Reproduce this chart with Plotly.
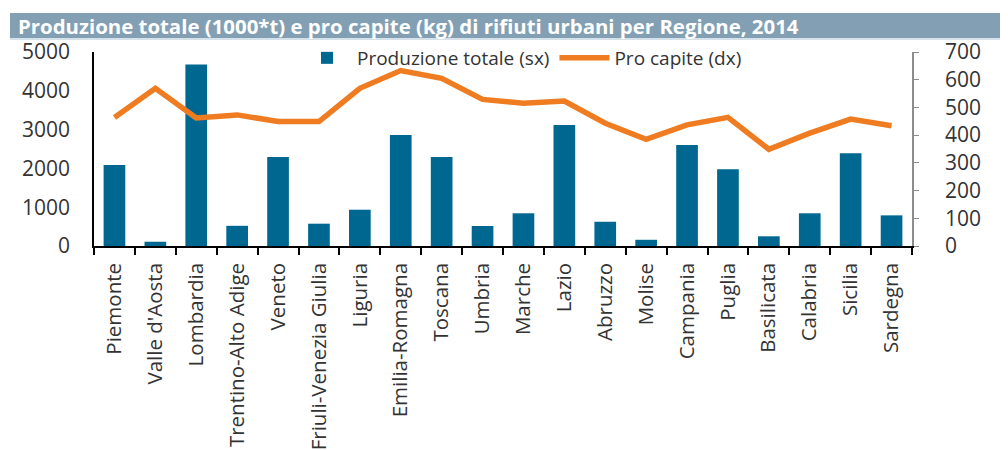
import plotly.graph_objects as go

regioni = ["Piemonte", "Valle d'Aosta", "Lombardia", "Trentino-Alto Adige", "Veneto",
           "Friuli-Venezia Giulia", "Liguria", "Emilia-Romagna", "Toscana", "Umbria",
           "Marche", "Lazio", "Abruzzo", "Molise", "Campania", "Puglia", "Basilicata",
           "Calabria", "Sicilia", "Sardegna"]
produzione_totale = [2090, 110, 4680, 520, 2295, 575, 935, 2860, 2295, 515,
                     843, 3120, 625, 160, 2600, 1980, 250, 843, 2390, 790]
pro_capite = [464, 569, 462, 473, 449, 449, 569, 633, 605, 529,
              515, 523, 443, 385, 437, 464, 349, 407, 458, 434]
left_ticks = [0, 1000, 2000, 3000, 4000, 5000]
right_ticks = [0, 100, 200, 300, 400, 500, 600, 700]
titolo = "Produzione totale (1000*t) e pro capite (kg) di rifiuti urbani per Regione, 2014"

# page body has an 8px margin: figure placed at (8, 8) in the 1008x450 window
OFF = 8
W, H = 1008 - OFF, 450 - OFF
# plot area in screen pixels
SL, SR, ST, SB = 94, 912, 52, 246
L, R, T, B = SL - OFF, W - (SR - OFF), ST - OFF, H - (SB - OFF)
pw, ph = SR - SL, SB - ST

def px_x(x):  # screen x -> paper
    return (x - SL) / pw

def px_y(y):  # screen y -> paper
    return (SB - y) / ph

FONT = "Open Sans"
TXT = "#333333"

fig = go.Figure()
fig.add_trace(go.Bar(x=regioni, y=produzione_totale, name="Produzione totale (sx)",
                     marker=dict(color="#006890", line=dict(width=0)), width=0.53))
fig.add_trace(go.Scatter(x=regioni, y=pro_capite, name="Pro capite (dx)", yaxis="y2",
                         mode="lines", line=dict(color="#F07C22", width=5.5)))

fig.update_layout(
    width=W, height=H,
    margin=dict(l=L, r=R, t=T, b=B, autoexpand=False),
    paper_bgcolor="white", plot_bgcolor="white",
    font=dict(family=FONT, color=TXT),
    showlegend=True,
    legend=dict(orientation="h", x=px_x(297), y=px_y(39), xanchor="left", yanchor="top",
                font=dict(family=FONT, size=19, color=TXT),
                bgcolor="rgba(0,0,0,0)", itemwidth=50, traceorder="normal"),
    xaxis=dict(type="category", showline=True, linecolor="black", linewidth=1.5,
               ticks="outside", tickson="boundaries", ticklen=7, tickcolor="black",
               tickwidth=1.5, tickangle=-90, tickfont=dict(family=FONT, size=20.5, color=TXT),
               ticklabelstandoff=7, showgrid=False, zeroline=False),
    yaxis=dict(range=[0, 5000], tickvals=left_ticks, showgrid=False, zeroline=False,
               showline=True, linecolor="black", linewidth=1.5, ticks="",
               tickfont=dict(family=FONT, size=21, color=TXT), ticklabelstandoff=18),
    yaxis2=dict(range=[0, 700], tickvals=right_ticks, overlaying="y", side="right",
                showgrid=False, zeroline=False, showline=True, linecolor="#8c8c8c",
                linewidth=1.5, ticks="outside", ticklen=5, tickcolor="#8c8c8c",
                tickfont=dict(family=FONT, size=21, color=TXT), ticklabelstandoff=22),
)

# title bar
fig.add_shape(type="rect", xref="paper", yref="paper",
              x0=px_x(10), x1=px_x(1010), y0=px_y(38), y1=px_y(13),
              fillcolor="#829FB4", line=dict(width=0), layer="below")
fig.add_shape(type="line", xref="paper", yref="paper",
              x0=px_x(10), x1=px_x(1010), y0=px_y(39), y1=px_y(39),
              line=dict(color="#C9D8E3", width=1.5))
fig.add_annotation(text="<b>" + titolo + "</b>", xref="paper", yref="paper",
                   x=px_x(16), y=px_y(25.5), xanchor="left", yanchor="middle",
                   showarrow=False, font=dict(family=FONT, size=20.4, color="white"))

fig.write_html("out.html")
